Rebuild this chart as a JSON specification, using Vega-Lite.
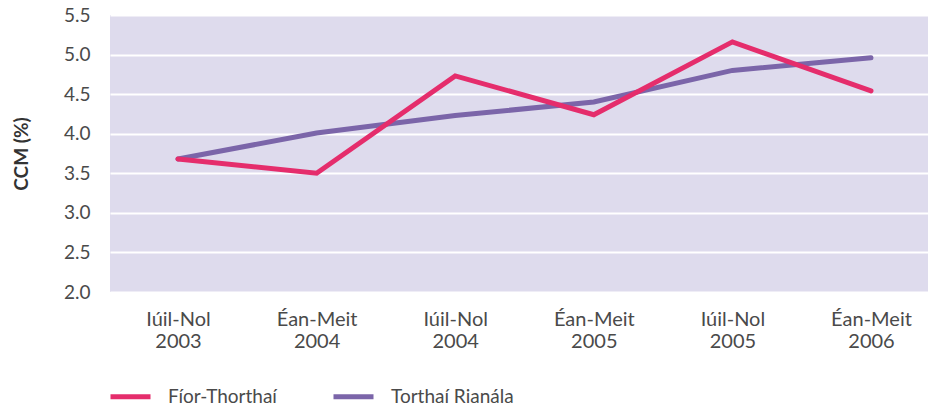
{
  "$schema": "https://vega.github.io/schema/vega-lite/v6.json",
  "width": 818,
  "height": 277,
  "padding": {"left": 12, "top": 6, "right": 0, "bottom": 0},
  "autosize": {"type": "pad"},
  "config": {
    "font": "Lato",
    "view": {"fill": "#DEDBED", "stroke": null},
    "axis": {"labelFont": "Lato", "labelColor": "#4a4a4a", "titleFont": "Lato"},
    "axisY": {"titleFontSize": 19, "titleFontWeight": "bold", "titleColor": "#333333"}
  },
  "data": {
    "values": [
      {"period": "Iúil-Nol 2003", "series": "Fíor-Thorthaí", "value": 3.68},
      {"period": "Éan-Meit 2004", "series": "Fíor-Thorthaí", "value": 3.50},
      {"period": "Iúil-Nol 2004", "series": "Fíor-Thorthaí", "value": 4.73},
      {"period": "Éan-Meit 2005", "series": "Fíor-Thorthaí", "value": 4.24},
      {"period": "Iúil-Nol 2005", "series": "Fíor-Thorthaí", "value": 5.16},
      {"period": "Éan-Meit 2006", "series": "Fíor-Thorthaí", "value": 4.54},
      {"period": "Iúil-Nol 2003", "series": "Torthaí Rianála", "value": 3.68},
      {"period": "Éan-Meit 2004", "series": "Torthaí Rianála", "value": 4.01},
      {"period": "Iúil-Nol 2004", "series": "Torthaí Rianála", "value": 4.23},
      {"period": "Éan-Meit 2005", "series": "Torthaí Rianála", "value": 4.40},
      {"period": "Iúil-Nol 2005", "series": "Torthaí Rianála", "value": 4.80},
      {"period": "Éan-Meit 2006", "series": "Torthaí Rianála", "value": 4.96}
    ]
  },
  "encoding": {
    "x": {
      "field": "period",
      "type": "ordinal",
      "sort": null,
      "scale": {"type": "point", "padding": 0.451, "align": 0.544},
      "axis": {
        "title": null,
        "labelAngle": 0,
        "labelExpr": "split(datum.label, ' ')",
        "labelFontSize": 20,
        "labelLineHeight": 22,
        "labelPadding": 17,
        "ticks": false,
        "domain": false,
        "grid": false
      }
    },
    "y": {
      "field": "value",
      "type": "quantitative",
      "scale": {"domain": [2.0, 5.5], "nice": false, "zero": false},
      "axis": {
        "title": "CCM (%)",
        "titleFontSize": 19,
        "titleFontWeight": "bold",
        "titleColor": "#333333",
        "titlePadding": 32,
        "values": [2.0, 2.5, 3.0, 3.5, 4.0, 4.5, 5.0, 5.5],
        "format": ".1f",
        "labelFontSize": 19,
        "labelPadding": 20,
        "ticks": false,
        "domain": false,
        "gridColor": "#ffffff",
        "gridWidth": 2,
        "gridOpacity": 1
      }
    },
    "color": {
      "field": "series",
      "type": "nominal",
      "scale": {"domain": ["Fíor-Thorthaí", "Torthaí Rianála"], "range": ["#E52D6C", "#7B65A9"]},
      "legend": {
        "title": null,
        "orient": "none",
        "direction": "horizontal",
        "legendX": -2,
        "legendY": 359,
        "symbolType": "stroke",
        "symbolSize": 1600,
        "symbolStrokeWidth": 5,
        "labelFontSize": 19,
        "labelColor": "#4a4a4a",
        "labelOffset": 15,
        "columnPadding": 46,
        "labelLimit": 300
      }
    }
  },
  "layer": [
    {
      "transform": [{"filter": "datum.series == 'Torthaí Rianála'"}],
      "mark": {"type": "line", "strokeWidth": 5, "strokeCap": "round", "strokeJoin": "miter"}
    },
    {
      "transform": [{"filter": "datum.series == 'Fíor-Thorthaí'"}],
      "mark": {"type": "line", "strokeWidth": 5, "strokeCap": "round", "strokeJoin": "miter"}
    }
  ]
}
